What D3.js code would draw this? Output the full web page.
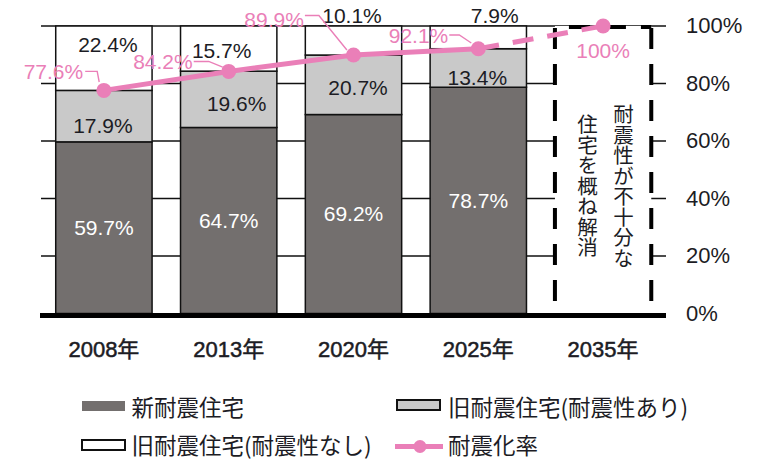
<!DOCTYPE html>
<html><head><meta charset="utf-8">
<script src="https://cdn.jsdelivr.net/npm/d3@7"></script>
<style>
html,body{margin:0;padding:0;background:#fff;}
svg{display:block;}
</style></head>
<body><svg id="chart" width="760" height="460"></svg>
<script>
// ---- data ----
const years = ["2008年", "2013年", "2020年", "2025年", "2035年"];
const newShare = [59.7, 64.7, 69.2, 78.7];        // 新耐震住宅
const oldSafeShare = [17.9, 19.6, 20.7, 13.4];    // 旧耐震住宅(耐震性あり)
const oldUnsafeShare = [22.4, 15.7, 10.1, 7.9];   // 旧耐震住宅(耐震性なし)
const rate = [77.6, 84.2, 89.9, 92.1, 100];       // 耐震化率
const yTicks = [0, 20, 40, 60, 80, 100];
const noteLines = ["耐震性が不十分な", "住宅を概ね解消"];
const legendLabels = ["新耐震住宅", "旧耐震住宅(耐震性あり)", "旧耐震住宅(耐震性なし)", "耐震化率"];

// ---- style ----
const C = { dark: "#736f6e", light: "#c9c9c9", white: "#ffffff", pink: "#ea7fb8", ink: "#1c1c24" };
const NUM = "'Liberation Sans', Arial, 'Noto Sans CJK JP', sans-serif";
const JP = "'Noto Sans CJK JP', 'Liberation Sans', sans-serif";

// label nudges for the segment values (dx, dy from each segment centre)
const segNudge = {
  new:    [[0, 0], [0, 0], [0, -1], [0, 0]],
  safe:   [[-1, 9], [8, 4], [4.5, 3], [-1, 10]],
  unsafe: [[4, -14], [-7, 1.5], [-1.5, -25.5], [16.5, -22]]
};
// rate label placement relative to its dot: text end (dx,dy) and leader points
const rateLabelPos = [
  { tx: -20.7, ty: -19, anchor: "end", leader: [[-18.7, -19], [-6.7, -19], [-4.7, -8.4]] },
  { tx: -36, ty: -10, anchor: "end", leader: [[-35, -10], [-20, -10], [-6, -4.4]] },
  { tx: -49.6, ty: -36, anchor: "end", leader: [[-48.6, -39.5], [-34.6, -39.5], [-6.6, -5]] },
  { tx: -30, ty: -13, anchor: "end", leader: [[-29, -13.7], [-19, -13.7], [-7, -5.7]] },
  { tx: 0, ty: 24, anchor: "middle", leader: null }
];

const svg = d3.select("#chart");

const x = d3.scaleBand().domain(years).range([41, 666]).paddingInner(0.228).paddingOuter(0.118);
const y = d3.scaleLinear().domain([0, 100]).range([313.5, 26]);
const bw = x.bandwidth();
const cx = d => x(d) + bw / 2;

// gridlines
svg.append("g").selectAll("line").data(yTicks.filter(t => t > 0)).join("line")
  .attr("x1", 41).attr("x2", 666)
  .attr("y1", d => y(d)).attr("y2", d => y(d))
  .attr("stroke", "#111").attr("stroke-width", 1.4);

// stacked bars
const rows = newShare.map((v, i) => ({ year: years[i], new: v, safe: oldSafeShare[i], unsafe: oldUnsafeShare[i] }));
const keys = ["new", "safe", "unsafe"];
const fills = { new: C.dark, safe: C.light, unsafe: C.white };
const stacked = d3.stack().keys(keys)(rows);

const gBars = svg.append("g");
stacked.forEach(layer => {
  gBars.selectAll(null).data(layer).join("rect")
    .attr("x", d => x(d.data.year))
    .attr("width", bw)
    .attr("y", d => y(d[1]))
    .attr("height", d => y(d[0]) - y(d[1]))
    .attr("fill", fills[layer.key])
    .attr("stroke", "#111").attr("stroke-width", 1.5);
});

// 2035 dashed box
const bx0 = x(years[4]), bx1 = bx0 + bw;
svg.append("rect").attr("x", bx0).attr("y", y(100)).attr("width", bw).attr("height", y(0) - y(100))
  .attr("fill", "#fff");
const dash = svg.append("g").attr("stroke", "#000").attr("stroke-width", 4).attr("fill", "none")
  .attr("stroke-dasharray", "21,15");
dash.append("line").attr("x1", bx0).attr("x2", bx0).attr("y1", y(100) + 2).attr("y2", y(0));
dash.append("line").attr("x1", bx1).attr("x2", bx1).attr("y1", y(100) + 2).attr("y2", y(0));
dash.append("line").attr("x1", bx0 + 14).attr("x2", bx1).attr("y1", y(100) + 1).attr("y2", y(100) + 1);

// vertical note inside the box
const noteX = [bx0 + bw / 2 + 20.5, bx0 + bw / 2 - 15.5];
noteLines.forEach((t, i) => {
  svg.append("text").text(t)
    .attr("x", noteX[i]).attr("y", 186)
    .attr("text-anchor", "middle")
    .style("writing-mode", "vertical-rl")
    .attr("font-family", JP).attr("font-size", 20.5).attr("fill", C.ink);
});

// baseline
svg.append("rect").attr("x", 40).attr("y", y(0) - 0.5).attr("width", 626).attr("height", 5).attr("fill", "#000");

// y-axis labels (right side)
svg.append("g").selectAll("text").data(yTicks).join("text")
  .attr("x", 686).attr("y", d => y(d) - 0.5)
  .attr("dominant-baseline", "central")
  .attr("font-family", NUM).attr("font-size", 22).attr("fill", C.ink)
  .text(d => d + "%");

// x-axis labels
svg.append("g").selectAll("text").data(years).join("text")
  .attr("x", d => cx(d)).attr("y", 349)
  .attr("text-anchor", "middle").attr("dominant-baseline", "central")
  .attr("font-family", NUM).attr("font-size", 22).attr("fill", C.ink)
  .attr("stroke", C.ink).attr("stroke-width", 0.5)
  .text(d => d);

// segment value labels
stacked.forEach(layer => {
  svg.append("g").selectAll("text").data(layer).join("text")
    .attr("x", (d, i) => cx(d.data.year) + segNudge[layer.key][i][0])
    .attr("y", (d, i) => (y(d[0]) + y(d[1])) / 2 + segNudge[layer.key][i][1])
    .attr("text-anchor", "middle").attr("dominant-baseline", "central")
    .attr("font-family", NUM).attr("font-size", 21)
    .attr("fill", layer.key === "new" ? "#fff" : C.ink)
    .text(d => d.data[layer.key].toFixed(1) + "%");
});

// 耐震化率 line
const pts = rate.map((v, i) => [cx(years[i]), y(v)]);
const line = d3.line();
svg.append("path").attr("d", line(pts.slice(0, 4)))
  .attr("fill", "none").attr("stroke", C.pink).attr("stroke-width", 5);
svg.append("path").attr("d", line(pts.slice(3)))
  .attr("fill", "none").attr("stroke", C.pink).attr("stroke-width", 5)
  .attr("stroke-dasharray", "21,14");
svg.append("g").selectAll("circle").data(pts).join("circle")
  .attr("cx", d => d[0]).attr("cy", d => d[1]).attr("r", 7.5).attr("fill", C.pink);

// rate labels with leader lines
rate.forEach((v, i) => {
  const p = pts[i], L = rateLabelPos[i];
  if (L.leader) {
    svg.append("path")
      .attr("d", d3.line()(L.leader.map(q => [p[0] + q[0], p[1] + q[1]])))
      .attr("fill", "none").attr("stroke", C.pink).attr("stroke-width", 1.4);
  }
  svg.append("text")
    .attr("x", p[0] + L.tx).attr("y", p[1] + L.ty)
    .attr("text-anchor", L.anchor).attr("dominant-baseline", "central")
    .attr("font-family", NUM).attr("font-size", 21).attr("fill", C.pink)
    .text((v === 100 ? "100" : v.toFixed(1)) + "%");
});

// legend
const lg = svg.append("g").attr("font-family", JP).attr("font-size", 22.5).attr("fill", C.ink);
const legendItems = [
  { kind: "rect", fill: C.dark, stroke: "none", sx: 82, tx: 131.5, yc: 406, ty: 405.5 },
  { kind: "rect", fill: C.light, stroke: "#111", sx: 397, tx: 448, yc: 405, ty: 405.5 },
  { kind: "rect", fill: C.white, stroke: "#111", sx: 82, tx: 131.5, yc: 445, ty: 443.5 },
  { kind: "line", sx: 395, tx: 448, yc: 446.5, ty: 443.5 }
];
legendItems.forEach((it, i) => {
  if (it.kind === "rect") {
    lg.append("rect").attr("x", it.sx).attr("y", it.yc - 5).attr("width", 43).attr("height", 10)
      .attr("fill", it.fill).attr("stroke", it.stroke).attr("stroke-width", 2);
  } else {
    lg.append("line").attr("x1", it.sx).attr("x2", it.sx + 48).attr("y1", it.yc).attr("y2", it.yc)
      .attr("stroke", C.pink).attr("stroke-width", 5);
    lg.append("circle").attr("cx", it.sx + 25).attr("cy", it.yc).attr("r", 6.5).attr("fill", C.pink);
  }
  lg.append("text").attr("x", it.tx).attr("y", it.ty)
    .attr("dominant-baseline", "central").text(legendLabels[i]);
});
</script>
</body></html>
